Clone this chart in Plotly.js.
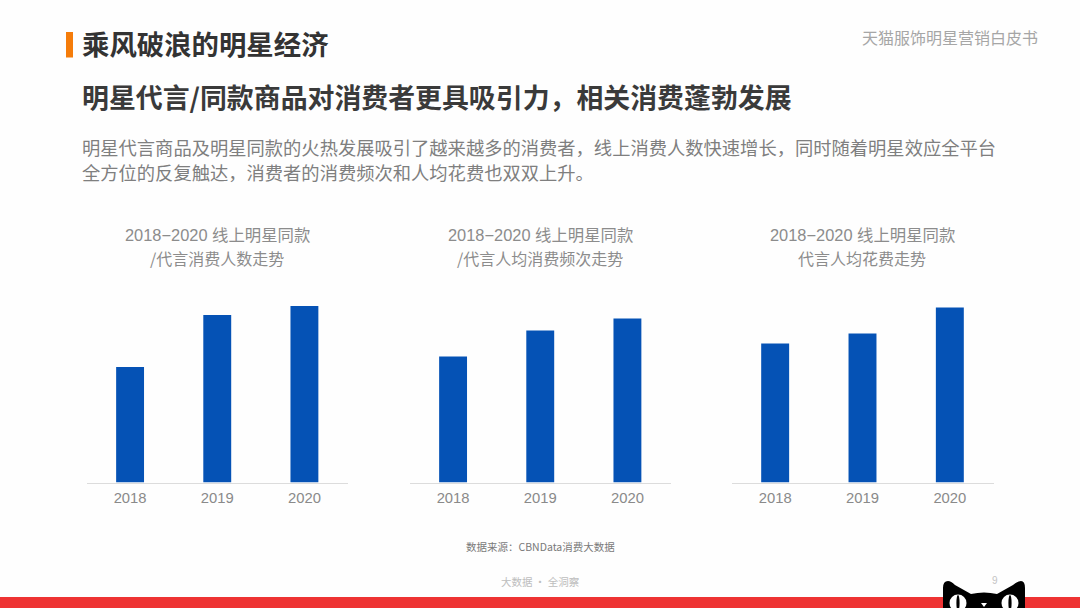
<!DOCTYPE html>
<html><head><meta charset="utf-8">
<script src="https://cdn.plot.ly/plotly-3.0.1.min.js"></script>
<style>html,body{margin:0;padding:0;background:#fff}#c{width:1080px;height:608px}</style></head>
<body><div id="c"></div>
<script>
const years = ['2018','2019','2020'];
const usersIndex = [115.5,167.5,176.5];
const frequencyIndex = [126,152,164];
const spendIndex = [139,149,175];
const chartTitleTop = ['2018−2020 线上明星同款','2018−2020 线上明星同款','2018−2020 线上明星同款'];
const chartTitleBottom = ['/代言消费人数走势','/代言人均消费频次走势','代言人均花费走势'];
const heading = '乘风破浪的明星经济';
const brand = '天猫服饰明星营销白皮书';
const subtitle = '明星代言/同款商品对消费者更具吸引力，相关消费蓬勃发展';
const bodyLine1 = '明星代言商品及明星同款的火热发展吸引了越来越多的消费者，线上消费人数快速增长，同时随着明星效应全平台';
const bodyLine2 = '全方位的反复触达，消费者的消费频次和人均花费也双双上升。';
const sourceText = '数据来源：CBNData消费大数据';
const footerText = '大数据 · 全洞察';
const pageNo = '9';

const W=1080,H=608;
const px=x=>x/W, py=y=>1-y/H;
const CJK='"Noto Sans CJK SC","Liberation Sans",sans-serif';
const LAT='"Liberation Sans",Arial,sans-serif';
const MIX='"Liberation Sans","Noto Sans CJK SC",sans-serif';
const panels=[[86.5,348],[409.5,671],[731.5,993.5]];
const series=[usersIndex,frequencyIndex,spendIndex];
const centers=[217,540,862];

const data=series.map((v,i)=>({type:'bar',x:years,y:v,width:0.32,
  marker:{color:'#0552b5'},xaxis:'x'+(i?i+1:''),yaxis:'y'+(i?i+1:''),hoverinfo:'x+y'}));

const layout={width:W,height:H,margin:{l:0,r:0,t:0,b:0},paper_bgcolor:'#fefefe',plot_bgcolor:'rgba(0,0,0,0)',
  showlegend:false,font:{family:CJK},annotations:[],shapes:[]};

function label(x,y,text,size,color,anchor,family){
  layout.annotations.push({xref:'paper',yref:'paper',x:px(x),y:py(y),text,showarrow:false,
    xanchor:anchor||'left',yanchor:'middle',align:anchor||'left',borderpad:0,
    font:{family:family||CJK,size,color}});
}

panels.forEach((p,i)=>{
  const s=i?i+1:'';
  layout['xaxis'+s]={domain:[px(p[0]),px(p[1])],anchor:'y'+s,type:'category',range:[-0.5,2.5],
    showline:true,linecolor:'#dcdcdc',linewidth:1,showgrid:false,ticks:'',zeroline:false,
    tickfont:{family:LAT,size:14.8,color:'#8a8a8a'},ticklabelstandoff:2};
  layout['yaxis'+s]={domain:[py(482.5),py(282.5)],anchor:'x'+s,range:[0,200],visible:false,fixedrange:true};
  label(centers[i],235,chartTitleTop[i],16.4,'#8c8c8c','center',MIX);
  label(centers[i],258,chartTitleBottom[i],16,'#8c8c8c','center',CJK);
});

label(81,43,'<b>'+heading+'</b>',27.4,'#333333');
label(1039,36.5,brand,16,'#a6a6a6','right');
label(81,96.5,'<b>'+subtitle+'</b>',26.9,'#3a3a3a');
label(81,147,bodyLine1,18.3,'#7f7f7f');
label(81,172,bodyLine2,18.3,'#7f7f7f');
label(540,546,sourceText,10.5,'#7a7a7a','center');
label(540,581,footerText,10.5,'#bdbdbd','center');
label(995,580,pageNo,10,'#c4c4c4','center',LAT);

function rect(x0,y0,x1,y1,color){
  layout.shapes.push({type:'rect',xref:'paper',yref:'paper',x0:px(x0),x1:px(x1),y0:py(y0),y1:py(y1),
    fillcolor:color,line:{width:0},layer:'above'});
}
function path(points,color){
  const d=points.map(c=>c[0]+(c.slice(1).map((v,k)=>(k%2?py(v):px(v)).toFixed(5)).join(' '))).join(' ')+' Z';
  layout.shapes.push({type:'path',xref:'paper',yref:'paper',path:d,fillcolor:color,line:{width:0},layer:'above'});
}
function ell(cx,cy,rx,ry,color){
  layout.shapes.push({type:'circle',xref:'paper',yref:'paper',x0:px(cx-rx),x1:px(cx+rx),y0:py(cy+ry),y1:py(cy-ry),
    fillcolor:color,line:{width:0},layer:'above'});
}
rect(66,32,73,57.5,'#f57c0a');
rect(0,597,W,608,'#ee3333');
path([['M',943,608],['L',943,588],['Q',943,581,948,581],['Q',951,581,955,585],['L',971,594],
      ['Q',984,591,997,594],['L',1013,585],['Q',1018,581,1021,581],['Q',1025,581,1025,588],['L',1025,608]],'#000000');
ell(958,603,8.5,8.5,'#ffffff');
ell(1010,603,8.5,8.5,'#ffffff');
ell(958,603,1.6,8,'#000000');
ell(1010,603,1.6,8,'#000000');
path([['M',981,603],['L',987,603],['L',984,607]],'#ffffff');

Plotly.newPlot('c',data,layout,{displayModeBar:false,staticPlot:true});
</script></body></html>
